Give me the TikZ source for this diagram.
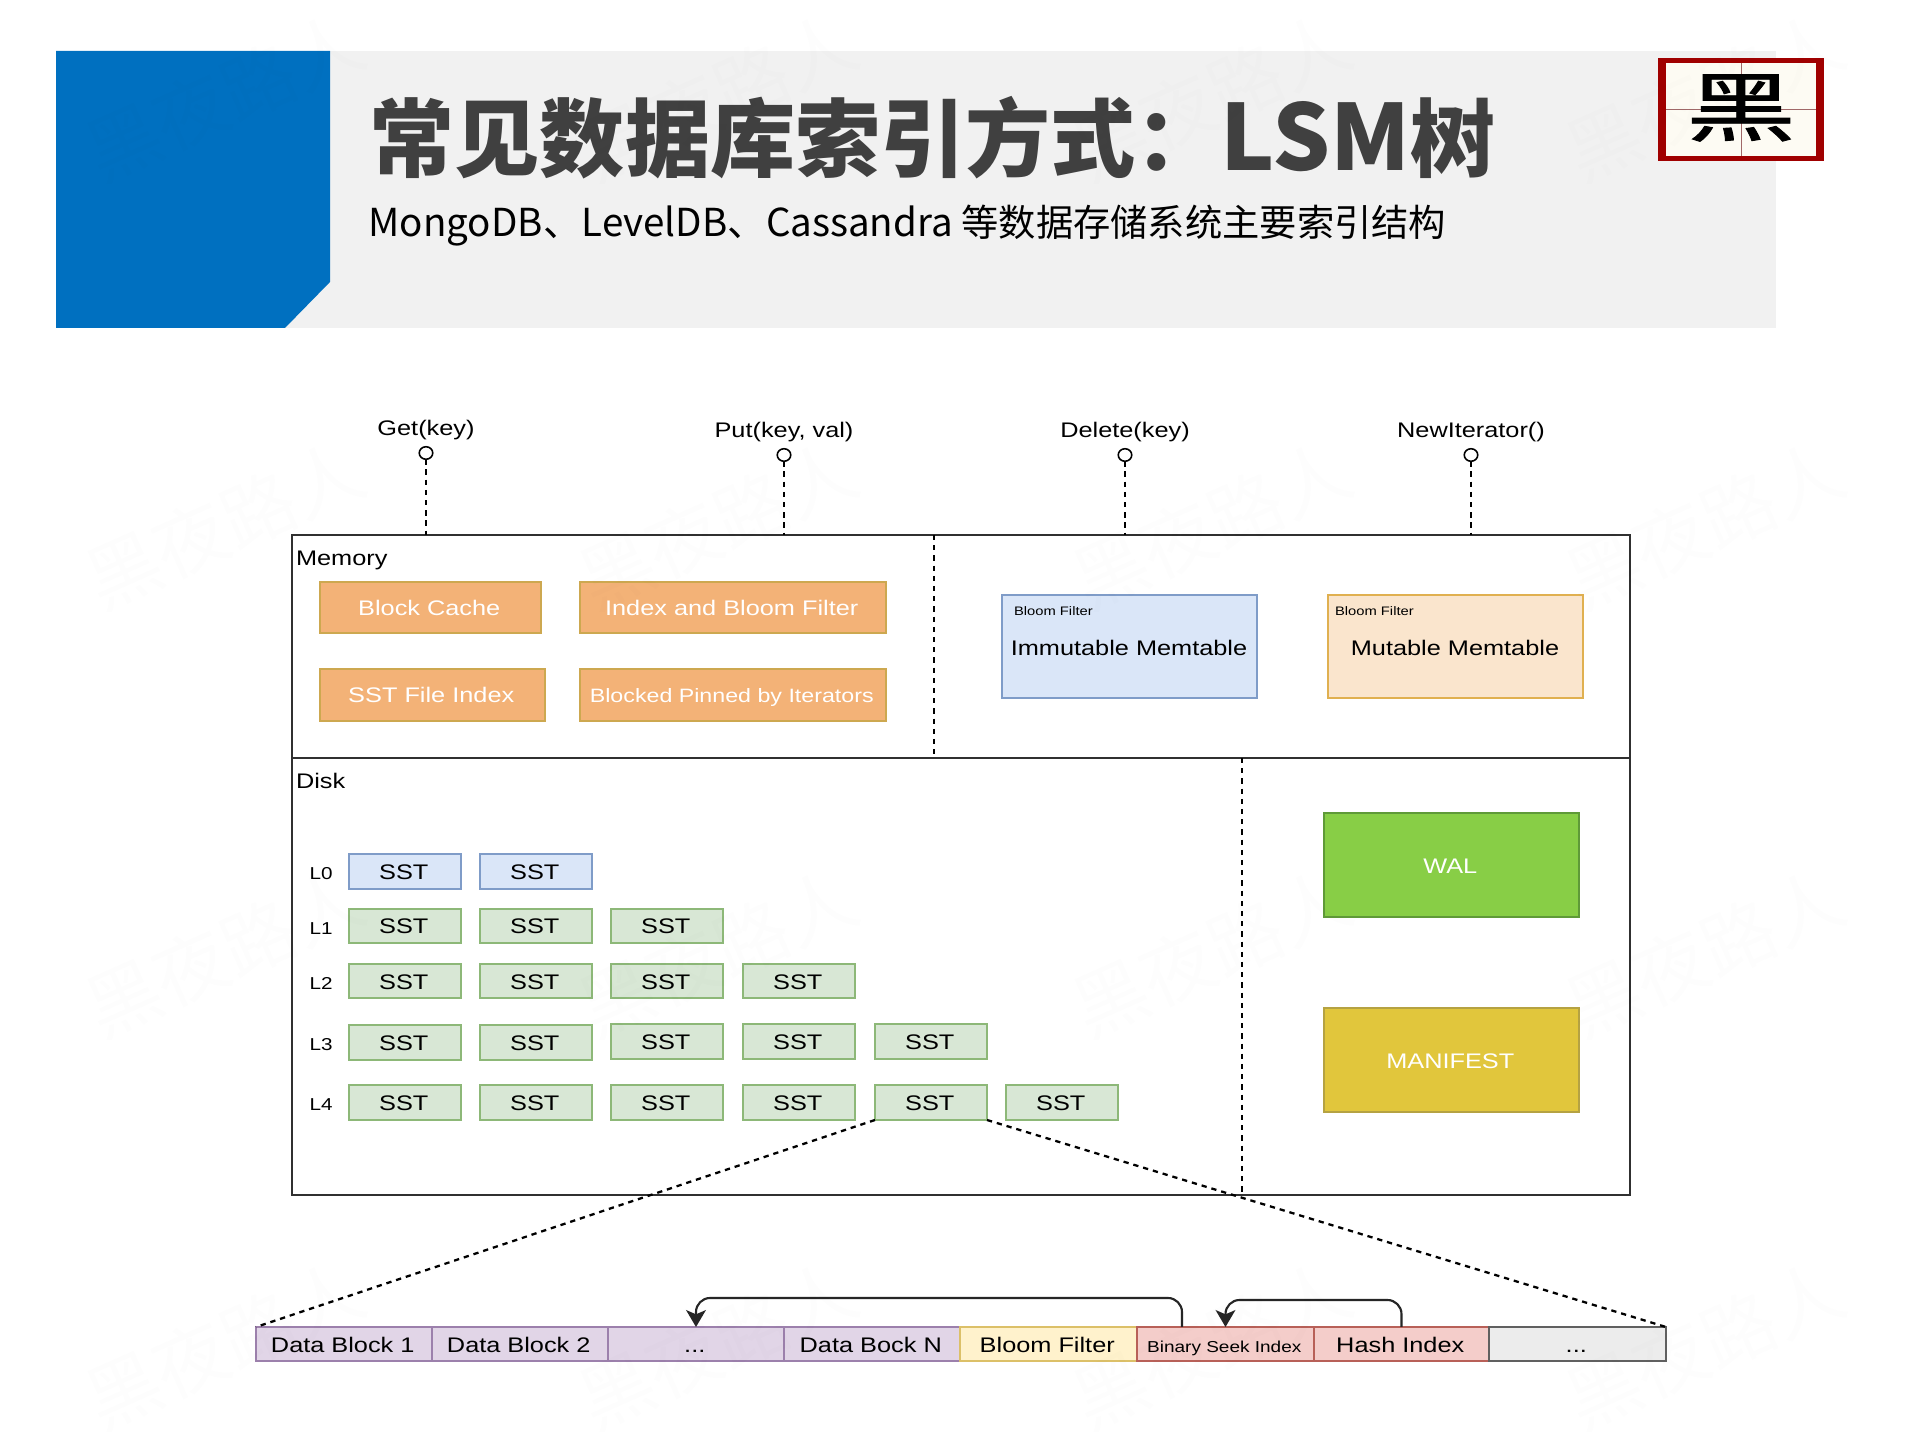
\documentclass[tikz,border=0pt]{standalone}
\usepackage{fontspec}
\usetikzlibrary{arrows.meta,shapes.geometric}
\setmainfont{Liberation Sans}
\newfontfamily\diagfont[FakeStretch=1.2]{Liberation Sans}
\newfontfamily\cjk{Noto Sans CJK SC}
\newfontfamily\stampfont[FakeStretch=1.45,FakeBold=1.2]{Noto Sans CJK SC}

\definecolor{headblue}{HTML}{0070C0}
\definecolor{headgrey}{HTML}{F1F1F1}
\definecolor{titlegrey}{HTML}{404040}
\definecolor{stampred}{HTML}{A00000}
\definecolor{stamppaper}{HTML}{FDFBF3}
\definecolor{stampline}{HTML}{A06868}
\definecolor{frameline}{HTML}{303030}
\definecolor{orangefill}{HTML}{F3B277}
\definecolor{orangeline}{HTML}{CDA850}
\definecolor{bluefill}{HTML}{DAE6F8}
\definecolor{blueline}{HTML}{7F9CC8}
\definecolor{peachfill}{HTML}{FAE5CD}
\definecolor{peachline}{HTML}{E0B050}
\definecolor{greenfill}{HTML}{D8E7D5}
\definecolor{greenline}{HTML}{8DB878}
\definecolor{walfill}{HTML}{88CE46}
\definecolor{walline}{HTML}{5F9A38}
\definecolor{manfill}{HTML}{E1C63C}
\definecolor{manline}{HTML}{B5A242}
\definecolor{purplefill}{HTML}{E1D5E7}
\definecolor{purpleline}{HTML}{9C80AC}
\definecolor{creamfill}{HTML}{FFF2CC}
\definecolor{creamline}{HTML}{DCC068}
\definecolor{redfill}{HTML}{F4CDCA}
\definecolor{redline}{HTML}{B86058}
\definecolor{restfill}{HTML}{ECECEC}
\definecolor{restline}{HTML}{606060}

\tikzset{
  pxbox/.style={draw,rectangle,inner sep=0pt,outer sep=0pt,line width=0.55pt,
    text height=0.16cm,text depth=0pt,align=center,
    execute at end node={\kern0.7pt},
    font=\diagfont\fontsize{6}{7}\selectfont},
  plainbox/.style={rectangle,inner sep=0pt,outer sep=0pt},
  txt/.style={inner sep=0pt,outer sep=0pt,anchor=base,
    font=\diagfont\fontsize{6}{7}\selectfont},
  txtleft/.style={txt,anchor=base west},
  tiny label/.style={txtleft,font=\diagfont\fontsize{3.5}{4}\selectfont},
  frame/.style={pxbox,draw=frameline,line width=0.7pt},
  orangebox/.style={pxbox,fill=orangefill,draw=orangeline,text=white},
  immbox/.style={pxbox,fill=bluefill,draw=blueline},
  mutbox/.style={pxbox,fill=peachfill,draw=peachline},
  sstblue/.style={pxbox,fill=bluefill,draw=blueline},
  sstgreen/.style={pxbox,fill=greenfill,draw=greenline},
  walbox/.style={pxbox,fill=walfill,draw=walline,text=white},
  manbox/.style={pxbox,fill=manfill,draw=manline,text=white},
  datacell/.style={pxbox,fill=purplefill,draw=purpleline},
  bloomcell/.style={pxbox,fill=creamfill,draw=creamline},
  indexcell/.style={pxbox,fill=redfill,draw=redline},
  restcell/.style={pxbox,fill=restfill,draw=restline},
  port/.style={draw=black,fill=white,ellipse,inner sep=0pt,outer sep=0pt,line width=0.45pt,
    minimum width=0.135cm,minimum height=0.125cm},
  shortdash/.style={draw=black,line width=0.65pt,dash pattern=on 1.5pt off 1.4pt},
  jump/.style={draw=black!85,line width=0.6pt,rounded corners=4pt,
    -{Stealth[length=4.8pt,width=5.6pt,inset=1.2pt]}},
  mark text/.style={inner sep=0pt,outer sep=0pt,text=black,text opacity=0.009,rotate=24,
    font=\cjk\fontsize{21}{21}\selectfont}
}

% box given by its corners in pixel units: [style]{name}{x1}{y1}{x2}{y2}{text}
\newcommand\cornerbox[6][]{%
  \pgfmathsetmacro\bxc{(#3+#5)/2}%
  \pgfmathsetmacro\byc{(#4+#6)/2}%
  \pgfmathsetmacro\bxw{(#5-#3)*0.01}%
  \pgfmathsetmacro\bxh{(#6-#4)*0.01}%
  \node[#1,minimum width=\bxw cm,minimum height=\bxh cm] (#2) at (\bxc,\byc)}

% one level of the tree: {style}{level}{first}{last}{y1}{y2}
\newcommand\sstrow[6]{%
  \foreach \c/\xa in {0/349,1/480,2/611,3/743,4/875,5/1006}{%
    \ifnum\c<#3\relax\else\ifnum\c>#4\relax\else
      \pgfmathsetmacro\xb{\xa+112}%
      \cornerbox[#1]{sst-#2-\c}{\xa}{#5}{\xb}{#6}{SST};
    \fi\fi}}

\begin{document}
\begin{tikzpicture}[x=0.01cm,y=-0.01cm]
\useasboundingbox (0,0) rectangle (1920,1440);
\fill[white] (0,0) rectangle (1920,1440);

% heading band
\fill[headgrey] (285,51) rectangle (1776,328);
\fill[headblue] (56,51) -- (330,51) -- (330,282) -- (285,328) -- (56,328) -- cycle;
\node[inner sep=0pt,anchor=base west,text=titlegrey,font=\cjk\bfseries\fontsize{24.2}{26}\selectfont]
  (title) at (369,171) {常见数据库索引方式：{\fontsize{25.9}{26}\selectfont LSM}树};
\node[inner sep=0pt,anchor=base west,text=black,font=\cjk\fontsize{10.95}{12}\selectfont]
  (subtitle) at (368,237) {MongoDB、LevelDB、Cassandra {\fontsize{10.6}{12}\selectfont 等数据存储系统主要索引结构}};

% seal in the corner
\cornerbox[plainbox,fill=stampred]{sealframe}{1658}{58}{1824}{161}{};
\cornerbox[plainbox,fill=stamppaper]{sealpaper}{1666}{63}{1816}{156}{};
\draw[stampline,line width=0.25pt] (sealpaper.north) -- (sealpaper.south);
\draw[stampline,line width=0.25pt] (sealpaper.west) -- (sealpaper.east);
\node[inner sep=0pt,font=\stampfont\fontsize{21.5}{22}\selectfont] (sealglyph) at (1741,108) {黑};

% memory and disk frames
\cornerbox[frame]{mem}{292}{535}{1630}{758}{};
\cornerbox[frame]{disk}{292}{758}{1630}{1195}{};
\node[txtleft] (memlabel) at (296,566) {Memory};
\node[txtleft] (disklabel) at (296,789) {Disk};
\coordinate (memsplit) at (934,535);
\coordinate (disksplit) at (1242,758);
\draw[shortdash] (memsplit) -- (memsplit |- mem.south);
\draw[shortdash] (disksplit) -- (disksplit |- disk.south);

% public operations
\node[port] (getport) at (426,453) {};
\node[port] (putport) at (784,455) {};
\node[port] (delport) at (1125,455) {};
\node[port] (iterport) at (1471,455) {};
\node[txt] (getlabel) at (426,436) {Get(key)};
\node[txt] (putlabel) at (784,438) {Put(key, val)};
\node[txt] (dellabel) at (1125,438) {Delete(key)};
\node[txt] (iterlabel) at (1471,438) {NewIterator()};
\foreach \p in {getport,putport,delport,iterport}
  \draw[shortdash] (\p.south) -- (\p.south |- mem.north);

% caches in memory
\cornerbox[orangebox]{blockcache}{320}{582}{541}{633}{Block Cache};
\cornerbox[orangebox]{indexbloom}{580}{582}{886}{633}{Index and Bloom Filter};
\cornerbox[orangebox]{sstindex}{320}{669}{545}{721}{SST File Index};
\cornerbox[orangebox,font=\diagfont\fontsize{5.5}{6.5}\selectfont]{pinned}{580}{669}{886}{721}{Blocked Pinned by Iterators};

% memtables
\cornerbox[immbox]{immutable}{1002}{595}{1257}{698}{};
\cornerbox[mutbox]{mutable}{1328}{595}{1583}{698}{};
\node[tiny label] (immbloom) at (1014,616) {Bloom Filter};
\node[tiny label] (mutbloom) at (1335,616) {Bloom Filter};
\node[txt] (immname) at (1129,656) {Immutable Memtable};
\node[txt] (mutname) at (1455,656) {Mutable Memtable};

% levels of sorted tables
\foreach \l/\yl in {L0/880,L1/935,L2/990,L3/1051,L4/1111}
  \node[txt,font=\diagfont\fontsize{4.9}{6}\selectfont] (label\l) at (321,\yl) {\l};
\sstrow{sstblue}{0}{0}{1}{854}{889}
\sstrow{sstgreen}{1}{0}{2}{909}{943}
\sstrow{sstgreen}{2}{0}{3}{964}{998}
\sstrow{sstgreen}{3}{0}{1}{1025}{1060}
\sstrow{sstgreen}{3}{2}{4}{1024}{1059}
\sstrow{sstgreen}{4}{0}{5}{1085}{1120}

% log and manifest
\cornerbox[walbox]{wal}{1324}{813}{1579}{917}{WAL};
\cornerbox[manbox]{manifest}{1324}{1008}{1579}{1112}{MANIFEST};

% layout of one table file
\cornerbox[datacell]{block1}{256}{1327}{432}{1361}{Data Block 1};
\cornerbox[datacell]{block2}{432}{1327}{608}{1361}{Data Block 2};
\cornerbox[datacell]{blockdots}{608}{1327}{784}{1361}{...};
\cornerbox[datacell]{blockn}{784}{1327}{960}{1361}{Data Bock N};
\cornerbox[bloomcell]{bloomcellnode}{960}{1327}{1137}{1361}{Bloom Filter};
\cornerbox[indexcell,font=\diagfont\fontsize{4.5}{5.5}\selectfont]{binary}{1137}{1327}{1314}{1361}{Binary Seek Index};
\cornerbox[indexcell]{hash}{1314}{1327}{1489}{1361}{Hash Index};
\cornerbox[restcell]{rest}{1489}{1327}{1666}{1361}{...};

% the highlighted table opens out into the layout below
\draw[shortdash] (sst-4-4.south west) -- (block1.north west);
\draw[shortdash] (sst-4-4.south east) -- (rest.north east);

% index entries pointing back
\coordinate (binaryout) at (1182,1327);
\draw[jump] (binaryout) -- (1182,1298) -| (blockdots.north);
\draw[jump] (hash.north) -- ++(0,-27) -| (binary.north);

% faint repeated mark across the sheet
\foreach \i/\xm in {0/225,1/718,2/1212,3/1705}
  \foreach \j/\ym in {0/97,1/525,2/953,3/1345}
    \node[mark text] (mark-\i-\j) at (\xm,\ym) {黑夜路人};
\end{tikzpicture}
\end{document}
